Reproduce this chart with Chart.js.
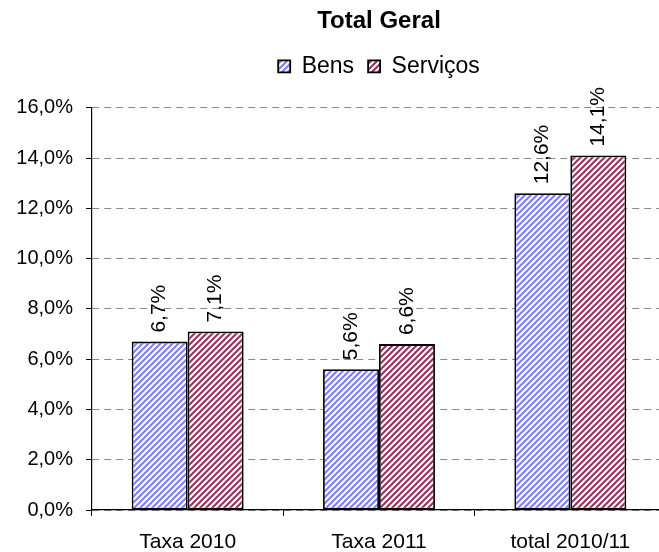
<!DOCTYPE html>
<html lang="pt">
<head>
<meta charset="UTF-8">
<title>Total Geral</title>
<script src="https://cdn.jsdelivr.net/npm/chart.js"></script>
<style>
  html, body { margin: 0; padding: 0; background: #fff; overflow: hidden; }
  #wrap { width: 672px; height: 552px; }
</style>
</head>
<body>
<div id="wrap"><canvas id="grafico"></canvas></div>
<script>
// dados do gráfico
const categorias = ['Taxa 2010', 'Taxa 2011', 'total 2010/11'];
const bens = [6.7, 5.6, 12.6];
const servicos = [7.1, 6.6, 14.1];
const rotulosSeries = ['Bens', 'Serviços'];

const fonte = '"Liberation Sans", Arial, sans-serif';

// padrão de listras diagonais
function listras(cor) {
  const c = document.createElement('canvas');
  c.width = 6; c.height = 6;
  const g = c.getContext('2d');
  g.fillStyle = '#fff';
  g.fillRect(0, 0, 6, 6);
  g.strokeStyle = cor;
  g.lineWidth = 2.2;
  g.beginPath();
  g.moveTo(-1, 7); g.lineTo(7, -1);
  g.moveTo(-4, 4); g.lineTo(4, -4);
  g.moveTo(2, 10); g.lineTo(10, 2);
  g.stroke();
  return g.createPattern(c, 'repeat');
}

const fmt = v => v.toFixed(1).replace('.', ',') + '%';

// rótulos verticais acima das barras
const rotulos = {
  id: 'rotulos',
  afterDatasetsDraw(chart) {
    const ctx = chart.ctx;
    ctx.save();
    ctx.font = '21px ' + fonte;
    ctx.fillStyle = '#000';
    ctx.textAlign = 'left';
    ctx.textBaseline = 'middle';
    chart.data.datasets.forEach((ds, i) => {
      chart.getDatasetMeta(i).data.forEach((bar, j) => {
        ctx.save();
        ctx.translate(bar.x, bar.y - 9);
        ctx.rotate(-Math.PI / 2);
        ctx.fillText(fmt(ds.data[j]), 0, 0);
        ctx.restore();
      });
    });
    ctx.restore();
  }
};

// espaço extra abaixo da legenda
const espacoLegenda = {
  id: 'espacoLegenda',
  beforeInit(chart) {
    const fitOriginal = chart.legend.fit;
    chart.legend.fit = function () {
      fitOriginal.bind(chart.legend)();
      this.height += 20;
    };
  }
};

const grafico = new Chart(document.getElementById('grafico'), {
  type: 'bar',
  data: {
    labels: categorias,
    datasets: [
      { label: rotulosSeries[0], data: bens, backgroundColor: listras('#8080ff'),
        borderColor: '#000', borderWidth: 1.8, borderSkipped: false },
      { label: rotulosSeries[1], data: servicos, backgroundColor: listras('#993366'),
        borderColor: '#000', borderWidth: 1.8, borderSkipped: false }
    ]
  },
  options: {
    responsive: true,
    maintainAspectRatio: false,
    animation: false,
    datasets: { bar: { categoryPercentage: 0.585, barPercentage: 1.0 } },
    layout: { padding: { left: 8, right: 6, top: 0, bottom: 0 } },
    plugins: {
      title: {
        display: true,
        fullSize: false,
        text: 'Total Geral',
        color: '#000',
        font: { family: fonte, size: 24, weight: 'bold' },
        padding: { top: 7, bottom: 5 }
      },
      legend: {
        display: true,
        fullSize: false,
        labels: {
          color: '#000',
          font: { family: fonte, size: 23 },
          boxWidth: 12, boxHeight: 12, padding: 14
        }
      },
      tooltip: { enabled: false }
    },
    scales: {
      y: {
        min: 0, max: 16,
        ticks: {
          stepSize: 2, color: '#000', padding: 13,
          font: { family: fonte, size: 20 },
          callback: v => fmt(v)
        },
        grid: {
          color: '#888', lineWidth: 1,
          tickColor: '#000', tickBorderDash: [], tickLength: 6
        },
        border: { color: '#000', width: 1.2, dash: [7, 5] },
        afterFit(s) { s.width = 84; }
      },
      x: {
        ticks: {
          color: '#000', padding: 14,
          font: { family: fonte, size: 21 }
        },
        grid: { drawOnChartArea: false, tickColor: '#000', tickLength: 6, offset: true },
        border: { color: '#000', width: 1.2 },
        afterFit(s) { s.height = 42; }
      }
    }
  },
  plugins: [rotulos, espacoLegenda]
});
</script>
</body>
</html>
